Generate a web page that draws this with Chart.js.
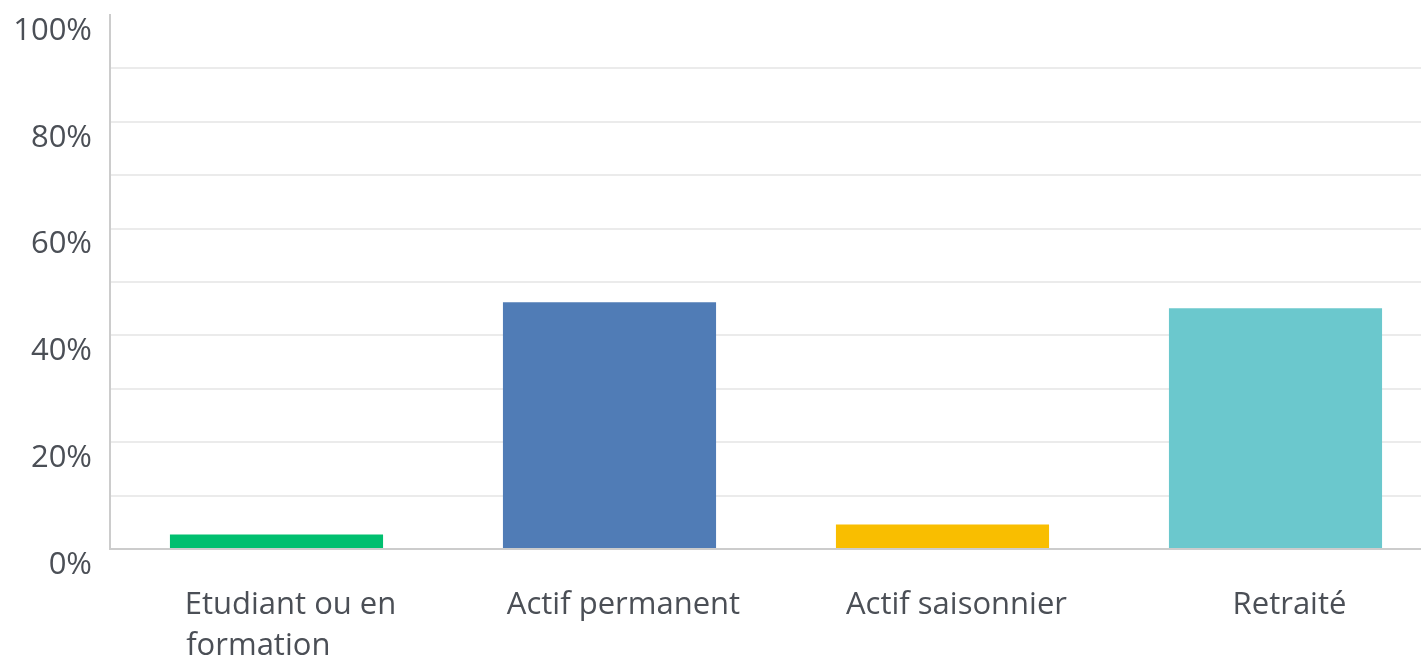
<!DOCTYPE html>
<html>
<head>
<meta charset="utf-8">
<script src="https://cdn.jsdelivr.net/npm/chart.js@4.4.1/dist/chart.umd.min.js"></script>
<style>
  html, body { margin: 0; padding: 0; background: #fff; overflow: hidden; }
  #wrap { width: 1445px; height: 659px; position: relative; }
</style>
</head>
<body>
<div id="wrap"><canvas id="chart"></canvas></div>
<script>
// answers and share of respondents (%)
var categories = ['Etudiant ou en formation', 'Actif permanent', 'Actif saisonnier', 'Retraité'];
var categoryLines = [['Etudiant ou en', 'formation'], ['Actif permanent'], ['Actif saisonnier'], ['Retraité']];
var shares = [2.7, 46.2, 4.6, 45.1];
var barColors = ['#00bf6f', '#507cb6', '#f9be00', '#6bc8cd'];
var yTicks = [0, 20, 40, 60, 80, 100];

var FONT = '"Open Sans", sans-serif';
var FSIZE = 31;

// left align the lines of a wrapped label by padding the short lines with spaces
var mctx = document.createElement('canvas').getContext('2d');
mctx.font = FSIZE + 'px ' + FONT;
function padLines(lines) {
  var w = Math.max.apply(null, lines.map(function(l) {return mctx.measureText(l).width;}));
  return lines.map(function(l) {
    var s = l;
    while (mctx.measureText(s + '\u00A0').width <= w + 2) {s = s + '\u00A0';}
    return s;
  });
}
var xLabels = categoryLines.map(function(l) {return l.length > 1 ? padLines(l) : l[0];});

var ctx = document.getElementById('chart').getContext('2d');
var chart = new Chart(ctx, {
  type: 'bar',
  data: {
    labels: xLabels,
    datasets: [{
      label: 'Réponses',
      data: shares,
      backgroundColor: barColors,
      borderWidth: 0,
      categoryPercentage: 1,
      barPercentage: 0.64
    }]
  },
  options: {
    responsive: true,
    maintainAspectRatio: false,
    animation: false,
    layout: {padding: {top: 15, right: 3, left: 0, bottom: 0}},
    plugins: {legend: {display: false}, tooltip: {enabled: false}},
    scales: {
      x: {
        grid: {display: false, drawTicks: false},
        border: {color: '#cccccc', width: 2},
        ticks: {
          color: '#4b4f56',
          font: {family: FONT, size: FSIZE, lineHeight: 1.34},
          padding: 35,
          labelOffset: 14,
          maxRotation: 0,
          autoSkip: false
        },
        afterFit: function(s) {s.height = 110; s.paddingLeft = 0; s.paddingRight = 0;}
      },
      y: {
        min: 0,
        max: 100,
        grid: {
          drawTicks: false,
          color: function(c) {
            if (c.tick.value === 100) return 'rgba(0,0,0,0)';
            if (c.tick.value === 0) return '#cccccc';
            return '#ebebeb';
          },
          lineWidth: 2
        },
        border: {color: '#cccccc', width: 2},
        ticks: {
          stepSize: 10,
          color: '#4b4f56',
          font: {family: FONT, size: FSIZE},
          padding: 18,
          labelOffset: 16,
          callback: function(v) {return yTicks.indexOf(v) >= 0 ? v + '%' : '';}
        },
        afterFit: function(s) {s.width = 110; s.paddingTop = 0; s.paddingBottom = 0;}
      }
    }
  }
});
</script>
</body>
</html>
